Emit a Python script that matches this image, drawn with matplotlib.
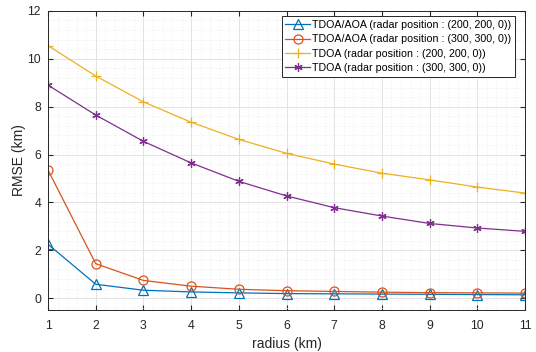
import matplotlib.pyplot as plt
from matplotlib.ticker import MultipleLocator

plt.rcParams['font.family'] = ['Liberation Sans', 'DejaVu Sans']

radius = [1, 2, 3, 4, 5, 6, 7, 8, 9, 10, 11]
aoa_200 = [2.25, 0.58, 0.33, 0.26, 0.22, 0.19, 0.18, 0.17, 0.16, 0.15, 0.14]
aoa_300 = [5.35, 1.44, 0.74, 0.50, 0.37, 0.31, 0.28, 0.25, 0.23, 0.22, 0.21]
tdoa_200 = [10.55, 9.28, 8.2, 7.35, 6.63, 6.05, 5.6, 5.22, 4.94, 4.64, 4.39]
tdoa_300 = [8.9, 7.65, 6.55, 5.65, 4.88, 4.27, 3.78, 3.43, 3.12, 2.93, 2.79]

labels = [
    'TDOA/AOA (radar position : (200, 200, 0))',
    'TDOA/AOA (radar position : (300, 300, 0))',
    'TDOA (radar position : (200, 200, 0))',
    'TDOA (radar position : (300, 300, 0))',
]

fig = plt.figure(figsize=(5.36, 3.52), dpi=100)
ax = fig.add_axes([0.0896, 0.119, 0.89, 0.85])

ax.plot(radius, aoa_200, color='#0072BD', marker='^', mfc='none', ms=6.5, mew=0.9, lw=0.9, label=labels[0])
ax.plot(radius, aoa_300, color='#D95319', marker='o', mfc='none', ms=6.5, mew=0.9, lw=0.9, label=labels[1])
ax.plot(radius, tdoa_200, color='#EDB120', marker='+', ms=7, mew=0.9, lw=0.9, label=labels[2])
ax.plot(radius, tdoa_300, color='#7E2F8E', marker=(6, 2, 0), ms=6, mew=0.9, lw=0.9, label=labels[3])

ax.set_xlim(1, 11)
ax.set_ylim(-0.5, 12)
ax.xaxis.set_major_locator(MultipleLocator(1))
ax.yaxis.set_major_locator(MultipleLocator(2))
ax.xaxis.set_minor_locator(MultipleLocator(0.2))
ax.yaxis.set_minor_locator(MultipleLocator(0.4))
ax.grid(which='major', color='#e3e3e3', lw=0.7)
ax.grid(which='minor', color='#ececec', lw=0.6, ls=':')
ax.set_axisbelow(True)
ax.tick_params(which='both', direction='in', top=True, right=True, colors='#262626', labelsize=8.8)
ax.tick_params(axis='x', pad=7)
ax.tick_params(axis='y', pad=5)
ax.tick_params(which='minor', length=0)
for s in ax.spines.values():
    s.set_color('#262626')
    s.set_linewidth(0.7)

ax.set_xlabel('radius (km)', fontsize=10, color='#262626', labelpad=4)
ax.set_ylabel('RMSE (km)', fontsize=10, color='#262626', labelpad=1)

leg = ax.legend(loc='upper right', fontsize=7.7, fancybox=False, edgecolor='#262626',
                framealpha=1, handlelength=2.3, borderpad=0.35, labelspacing=0.4,
                handletextpad=0.2, borderaxespad=0.5, bbox_to_anchor=(0.99, 1.0))
leg.get_frame().set_linewidth(0.7)

fig.savefig('out.png', dpi=100)
